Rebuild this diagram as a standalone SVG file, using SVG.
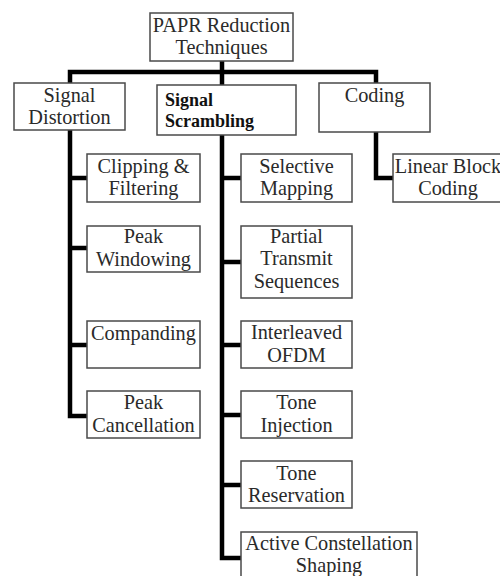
<svg xmlns="http://www.w3.org/2000/svg" width="500" height="576" viewBox="0 0 500 576">
<style>
.box{fill:#fff;stroke:#4a4a4a;stroke-width:1.5}
.t{font-family:"Liberation Serif","Times New Roman",serif;font-size:20.3px;fill:#2a2a2a;text-anchor:middle}
.b{font-family:"Liberation Serif","Times New Roman",serif;font-size:18px;font-weight:bold;fill:#111}
.c{fill:none;stroke:#000;stroke-width:4.5;stroke-linejoin:miter}
</style>
<rect width="500" height="576" fill="#fff"/>
<g id="connectors">
<path class="c" d="M222,61 V86"/>
<path class="c" d="M70,83 V72 H376 V83"/>
<path class="c" d="M70,130 V416 H87"/>
<path class="c" d="M70,178 H87 M70,248 H87 M70,345 H87"/>
<path class="c" d="M222,135 V558 H241"/>
<path class="c" d="M222,178 H241 M222,262 H241 M222,345 H241 M222,415 H241 M222,485 H241"/>
<path class="c" d="M376,132 V178 H393"/>
</g>
<g id="root"><rect class="box" x="150" y="13" width="143" height="48"/><text class="t" x="221.5" y="32">PAPR Reduction</text><text class="t" x="221.5" y="54">Techniques</text></g>
<g id="signal-distortion"><rect class="box" x="14" y="83" width="111" height="47"/><text class="t" x="69.5" y="102">Signal</text><text class="t" x="69.5" y="124">Distortion</text></g>
<g id="signal-scrambling"><rect class="box" x="157" y="85" width="139" height="50"/><text class="b" x="165" y="106">Signal</text><text class="b" x="165" y="127">Scrambling</text></g>
<g id="coding"><rect class="box" x="319" y="83" width="111" height="49"/><text class="t" x="374.5" y="102">Coding</text></g>
<g id="clipping"><rect class="box" x="87" y="154" width="113" height="48"/><text class="t" x="143.5" y="173">Clipping &amp;</text><text class="t" x="143.5" y="195">Filtering</text></g>
<g id="peak-windowing"><rect class="box" x="87" y="226" width="113" height="46"/><text class="t" x="143.5" y="243">Peak</text><text class="t" x="143.5" y="266">Windowing</text></g>
<g id="companding"><rect class="box" x="87" y="321" width="113" height="47"/><text class="t" x="143.5" y="340">Companding</text></g>
<g id="peak-cancellation"><rect class="box" x="87" y="391" width="113" height="47"/><text class="t" x="143.5" y="409">Peak</text><text class="t" x="143.5" y="432">Cancellation</text></g>
<g id="selective-mapping"><rect class="box" x="241" y="154" width="111" height="48"/><text class="t" x="296.5" y="173">Selective</text><text class="t" x="296.5" y="195">Mapping</text></g>
<g id="pts"><rect class="box" x="241" y="226" width="111" height="72"/><text class="t" x="296.5" y="243">Partial</text><text class="t" x="296.5" y="265">Transmit</text><text class="t" x="296.5" y="288">Sequences</text></g>
<g id="interleaved"><rect class="box" x="241" y="321" width="111" height="47"/><text class="t" x="296.5" y="339">Interleaved</text><text class="t" x="296.5" y="362">OFDM</text></g>
<g id="tone-injection"><rect class="box" x="241" y="391" width="111" height="47"/><text class="t" x="296.5" y="409">Tone</text><text class="t" x="296.5" y="432">Injection</text></g>
<g id="tone-reservation"><rect class="box" x="241" y="461" width="111" height="47"/><text class="t" x="296.5" y="480">Tone</text><text class="t" x="296.5" y="502">Reservation</text></g>
<g id="acs"><rect class="box" x="241" y="532" width="176" height="50"/><text class="t" x="329" y="550">Active Constellation</text><text class="t" x="329" y="572">Shaping</text></g>
<g id="linear-block"><rect class="box" x="393" y="154" width="112" height="48"/><text class="t" x="448" y="173">Linear Block</text><text class="t" x="448" y="195">Coding</text></g>
</svg>
